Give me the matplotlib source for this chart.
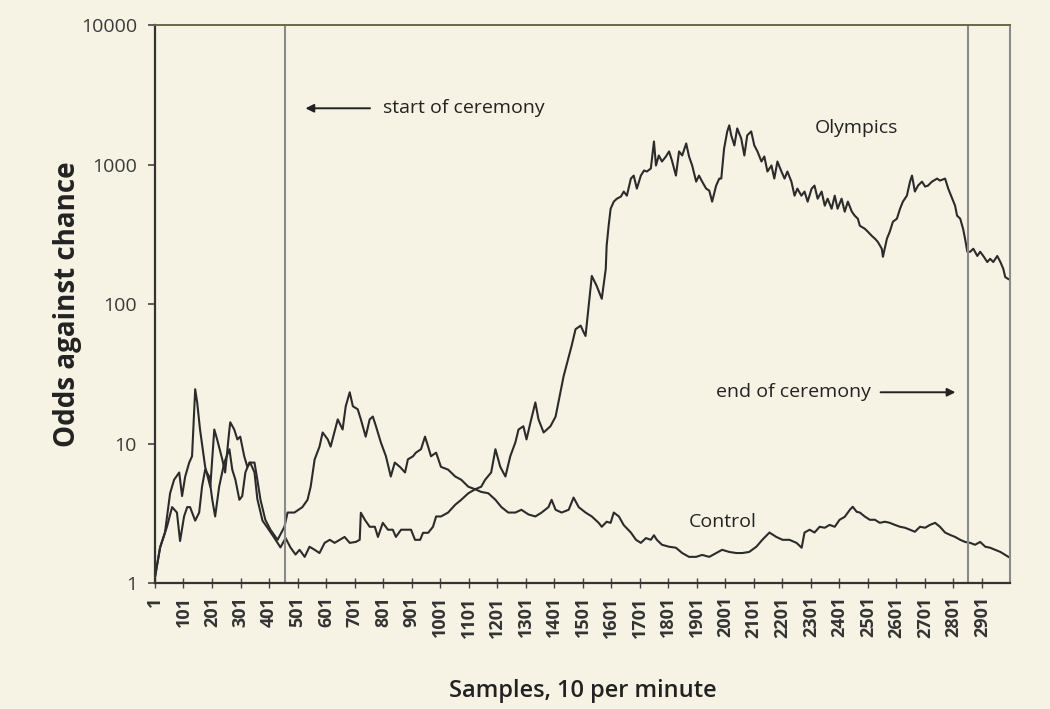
import matplotlib
matplotlib.use('Agg')
import matplotlib.pyplot as plt
from matplotlib.ticker import FixedLocator, NullLocator

# samples (10 per minute) and odds against chance
olympics_x = [1, 19, 36, 54, 68, 86, 96, 107, 121, 131, 142, 149, 159, 177, 195,
              209, 219, 237, 247, 262, 265, 279, 290, 300, 314, 325, 335, 350, 360,
              378, 395, 420, 441, 459, 476, 494, 508, 526, 543, 561, 578, 596, 614,
              631, 649, 666, 684, 705, 719, 723, 737, 754, 772, 783, 800, 818, 835,
              846, 864, 881, 899, 913, 931, 941, 959, 976, 987, 1004, 1029, 1054,
              1075, 1100, 1124, 1145, 1159, 1180, 1195, 1212, 1230, 1247, 1265, 1276,
              1293, 1304, 1318, 1335, 1346, 1364, 1388, 1406, 1423, 1434, 1452, 1462,
              1476, 1494, 1504, 1511, 1522, 1533, 1550, 1568, 1582, 1585, 1592, 1599,
              1610, 1621, 1635, 1645, 1656, 1670, 1680, 1691, 1705, 1716, 1726, 1740,
              1751, 1758, 1768, 1779, 1793, 1804, 1814, 1828, 1839, 1850, 1864, 1874,
              1885, 1899, 1909, 1920, 1934, 1945, 1955, 1969, 1980, 1987, 1997, 2008,
              2015, 2022, 2033, 2043, 2057, 2068, 2078, 2092, 2103, 2114, 2128, 2138,
              2149, 2163, 2173, 2184, 2198, 2209, 2219, 2233, 2244, 2254, 2268, 2279,
              2290, 2304, 2314, 2325, 2339, 2350, 2360, 2374, 2385, 2395, 2409, 2420,
              2431, 2445, 2455, 2466, 2473, 2490, 2501, 2515, 2526, 2536, 2550, 2554,
              2568, 2578, 2589, 2603, 2614, 2624, 2638, 2649, 2656, 2666, 2677, 2691,
              2702, 2712, 2726, 2744, 2754, 2772, 2783, 2797, 2807, 2814, 2825, 2835,
              2842, 2850, 2860, 2871, 2885, 2895, 2906, 2920, 2930, 2941, 2955, 2966,
              2976, 2983, 2994]
olympics_y = [1.1, 1.8, 2.3, 4.4, 5.5, 6.2, 4.2, 5.8, 7.3, 8.1, 24.5, 19.7, 12.6, 6.8, 4.9,
              12.6, 10.7, 7.7, 6.2, 12.6, 14.2, 12.6, 10.7, 11.2, 8.1, 6.8, 7.3, 6.2, 4.0,
              2.8, 2.5, 2.1, 1.8, 2.1, 1.8, 1.6, 1.73, 1.54, 1.82, 1.73, 1.64, 1.94, 2.04,
              1.94, 2.04, 2.14, 1.94, 1.97, 2.04, 3.19, 2.84, 2.53, 2.53, 2.14, 2.7, 2.41, 2.41,
              2.14, 2.41, 2.41, 2.41, 2.04, 2.04, 2.29, 2.29, 2.53, 3.0, 3.0, 3.2, 3.64,
              3.95, 4.4, 4.7, 4.9, 5.5, 6.2, 9.1, 6.8, 5.8, 8.1, 10.2, 12.6,
              13.3, 10.7, 14.2, 19.7, 14.9, 12.0, 13.3, 15.6, 23.3, 30.3, 42, 50,
              66, 70, 63, 59, 97, 159, 135, 109, 179, 261, 364, 482,
              542, 569, 589, 640, 598, 793, 833, 672, 833, 906, 891, 936,
              1463, 984, 1161, 1051, 1142, 1241, 1069, 833, 1241, 1161, 1416, 1142,
              984, 754, 833, 754, 672, 650, 542, 706, 793, 793, 1303, 1727,
              1909, 1617, 1370, 1815, 1538, 1161, 1617, 1727, 1370, 1241, 1051, 1142,
              891, 984, 793, 1051, 891, 793, 891, 754, 598, 672, 598, 640,
              542, 672, 706, 569, 640, 507, 569, 482, 598, 482, 569, 459,
              542, 459, 430, 409, 364, 347, 330, 308, 294, 279, 249, 218,
              294, 330, 389, 409, 482, 542, 598, 754, 833, 640, 706, 754,
              695, 706, 754, 793, 767, 793, 672, 569, 507, 430, 409, 347,
              294, 237, 237, 249, 221, 237, 221, 200, 211, 200, 221, 200,
              179, 156, 151]

control_x = [1, 19, 36, 43, 61, 78, 89, 103, 114, 124, 142, 156, 166, 177, 191, 202,
             212, 226, 244, 262, 272, 283, 297, 307, 318, 332, 350, 360, 371, 388,
             406, 431, 455, 466, 490, 518, 536, 547, 561, 578, 589, 607, 617, 642,
             659, 670, 684, 695, 712, 723, 740, 754, 765, 776, 793, 811, 828, 842,
             860, 878, 888, 906, 916, 934, 948, 959, 969, 987, 1004, 1029, 1054,
             1075, 1100, 1124, 1145, 1170, 1195, 1216, 1240, 1265, 1286, 1311, 1335,
             1357, 1381, 1392, 1406, 1427, 1452, 1469, 1487, 1511, 1533, 1557, 1568,
             1585, 1599, 1610, 1628, 1645, 1670, 1688, 1705, 1723, 1740, 1751, 1761,
             1779, 1804, 1828, 1850, 1874, 1899, 1920, 1945, 1969, 1990, 2015, 2040,
             2061, 2085, 2110, 2131, 2156, 2180, 2202, 2226, 2251, 2269, 2279, 2297,
             2314, 2332, 2350, 2367, 2385, 2402, 2420, 2438, 2448, 2462, 2473, 2490,
             2508, 2526, 2543, 2561, 2578, 2596, 2614, 2631, 2649, 2666, 2684, 2702,
             2719, 2737, 2754, 2772, 2790, 2807, 2825, 2842, 2860, 2877, 2895, 2913,
             2930, 2948, 2966, 2983, 2994]
control_y = [1.1, 1.8, 2.3, 2.53, 3.5, 3.2, 2.0, 3.0, 3.5, 3.5, 2.8, 3.2, 4.9, 6.5, 5.8, 3.95,
             3.0, 4.9, 7.3, 9.1, 6.5, 5.5, 3.95, 4.2, 6.2, 7.3, 7.3, 5.5, 3.95, 2.84,
             2.41, 2.04, 2.53, 3.2, 3.2, 3.5, 3.95, 4.9, 7.7, 9.5, 12.0, 10.7, 9.5, 14.9,
             12.6, 18.5, 23.3, 18.5, 17.6, 14.9, 11.2, 14.9, 15.6, 13.3, 10.2, 8.1, 5.8, 7.3,
             6.8, 6.2, 7.7, 8.1, 8.6, 9.1, 11.2, 9.5, 8.1, 8.6, 6.8, 6.5, 5.8,
             5.5, 4.9, 4.7, 4.5, 4.4, 3.95, 3.5, 3.2, 3.2, 3.35, 3.1, 3.0,
             3.2, 3.5, 3.95, 3.35, 3.2, 3.35, 4.1, 3.5, 3.2, 3.0, 2.7, 2.53,
             2.75, 2.7, 3.2, 3.0, 2.6, 2.3, 2.04, 1.94, 2.1, 2.04, 2.2, 2.04,
             1.88, 1.82, 1.79, 1.64, 1.54, 1.54, 1.59, 1.54, 1.64, 1.73, 1.67, 1.64,
             1.64, 1.67, 1.82, 2.04, 2.3, 2.14, 2.04, 2.04, 1.94, 1.79, 2.3, 2.41,
             2.3, 2.53, 2.49, 2.61, 2.53, 2.84, 2.98, 3.35, 3.52, 3.24, 3.2, 3.0,
             2.84, 2.84, 2.7, 2.75, 2.7, 2.61, 2.53, 2.49, 2.41, 2.33, 2.53, 2.49,
             2.61, 2.7, 2.53, 2.3, 2.21, 2.14, 2.04, 1.97, 1.94, 1.88, 1.97, 1.82,
             1.79, 1.73, 1.67, 1.59, 1.54]

xtick_vals = list(range(1, 3000, 100))
ytick_vals = [1, 10, 100, 1000, 10000]
ceremony_start = 457
ceremony_end = 2851

bg = '#f6f3e4'
ink = '#2b2b2b'

plt.rcParams['font.family'] = ['Open Sans', 'DejaVu Sans']

fig = plt.figure(figsize=(10.5, 7.09), dpi=100, facecolor=bg)
ax = fig.add_axes([0.1476, 0.1777, 0.8144, 0.787])
ax.set_facecolor(bg)

ax.plot(olympics_x, olympics_y, color=ink, lw=1.5)
ax.plot(control_x, control_y, color=ink, lw=1.5)

ax.axvline(ceremony_start, color='#8a8a8a', lw=1.5)
ax.axvline(ceremony_end, color='#8a8a8a', lw=1.5)

ax.set_yscale('log')
ax.set_ylim(1, 10000)
ax.set_xlim(1, 3000)

ax.yaxis.set_major_locator(FixedLocator(ytick_vals))
ax.yaxis.set_minor_locator(NullLocator())
ax.set_yticklabels([str(v) for v in ytick_vals], fontsize=14, color='#3a3a3a')
ax.tick_params(axis='y', length=5, width=1.2, color='#444444', pad=8)

ax.xaxis.set_major_locator(FixedLocator(xtick_vals))
ax.set_xticklabels([str(v) for v in xtick_vals], rotation=90, fontsize=13,
                   fontweight='bold', color='#333333')
ax.tick_params(axis='x', direction='inout', length=7, width=1, color='#444444', pad=6)

for side in ['left', 'bottom']:
    ax.spines[side].set_color('#333333')
    ax.spines[side].set_linewidth(1.6)
ax.spines['top'].set_color('#6a6a4a')
ax.spines['top'].set_linewidth(1.4)
ax.spines['right'].set_color('#8a8a8a')
ax.spines['right'].set_linewidth(1.5)

ax.set_ylabel('Odds against chance', fontsize=20, fontweight='bold', color='#222222')
ax.yaxis.set_label_coords(-0.085, 0.5)
ax.set_xlabel('Samples, 10 per minute', fontsize=17, fontweight='semibold', color='#222222',
              labelpad=30)

ax.annotate('', xy=(519, 2530), xytext=(765, 2530),
            arrowprops=dict(arrowstyle='-|>', color='#222222', lw=1.4, mutation_scale=12))
ax.text(800, 2530, 'start of ceremony', fontsize=14, color='#222222', va='center', ha='left')

ax.annotate('', xy=(2818, 23.3), xytext=(2536, 23.3),
            arrowprops=dict(arrowstyle='-|>', color='#222222', lw=1.4, mutation_scale=12))
ax.text(2510, 23.3, 'end of ceremony', fontsize=14, color='#222222', va='center', ha='right')

ax.text(2314, 1815, 'Olympics', fontsize=14, color='#222222', va='center', ha='left')
ax.text(1874, 2.75, 'Control', fontsize=14, color='#222222', va='center', ha='left')

fig.savefig('out.png', dpi=100, facecolor=bg)
